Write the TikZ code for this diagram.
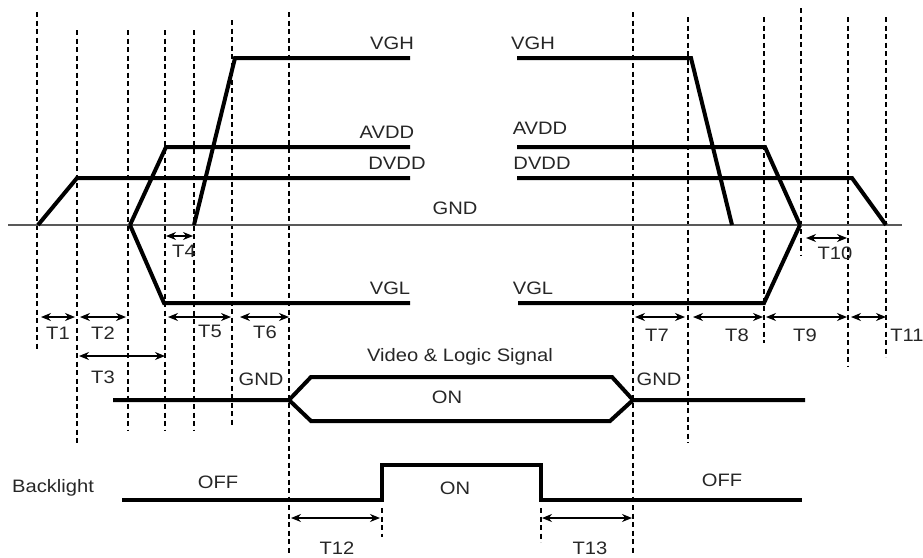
\documentclass[tikz,border=0pt]{standalone}
\usepackage{fontspec}
\setmainfont{Liberation Sans}[FakeStretch=1.12]
\usetikzlibrary{arrows.meta}
\begin{document}
\begin{tikzpicture}[x=1pt,y=-1pt,
  sig/.style={line width=4pt},
  guide/.style={line width=1.3pt, dash pattern=on 5pt off 3.5pt},
  gndline/.style={line width=1.5pt, black!65},
  dim/.style={line width=1.2pt, {Stealth[length=10pt,width=8pt]}-{Stealth[length=10pt,width=8pt]}},
  lbl/.style={font=\fontsize{18}{21}\selectfont, inner sep=0pt, text=black!85}]
\useasboundingbox (0,0) rectangle (923,557);
% guide lines
\foreach \x/\a/\b in {37/12/350, 77/30/443, 128/30/430, 165/30/430, 194/30/430, 232/20/427, 289/12/555, 633/12/555, 688/17/443, 764/17/343, 801/8/255, 848/17/367, 886/17/357, 382/508/537, 541/508/542}
  \draw[guide] (\x,\a) -- (\x,\b);
% ground
\draw[gndline] (8,225) -- (902,225);
% supply rails, power on
\draw[sig] (38,225) -- (77,178) -- (410,178);
\draw[sig] (130,225) -- (166,147) -- (410,147);
\draw[sig] (130,225) -- (164,303) -- (410,303);
\draw[sig] (194,225) -- (235,58) -- (410,58);
% supply rails, power off
\draw[sig] (517,58) -- (691,58) -- (732,225);
\draw[sig] (517,147) -- (765,147) -- (800,225);
\draw[sig] (517,178) -- (852,178) -- (886,225);
\draw[sig] (518,303) -- (764,303) -- (800,225);
% video bus
\draw[sig] (113,400) -- (289,400) -- (311,377) -- (612,377) -- (633,400) -- (805,400);
\draw[sig] (289,400) -- (311,421) -- (610,421) -- (633,400);
% backlight
\draw[line width=3.5pt] (122,500) -- (382,500) -- (382,465) -- (541,465) -- (541,500) -- (802,500);
% labels
\node[lbl] (vghL) at (392,43) {VGH};
\node[lbl] (vghR) at (533,43) {VGH};
\node[lbl] (avddL) at (387,132) {AVDD};
\node[lbl] (avddR) at (540,128) {AVDD};
\node[lbl] (dvddL) at (397,163) {DVDD};
\node[lbl] (dvddR) at (542,163) {DVDD};
\node[lbl] (gnd) at (455,208) {GND};
\node[lbl] (vglL) at (390,288) {VGL};
\node[lbl] (vglR) at (533,288) {VGL};
\node[lbl] (vls) at (460,357) {Video \& Logic Signal};
\node[lbl] (busOn) at (447,397) {ON};
\node[lbl] (gndA) at (261,379) {GND};
\node[lbl] (gndB) at (659,379) {GND};
\node[lbl] (bl) at (53,488) {Backlight};
\node[lbl] (offA) at (218,482) {OFF};
\node[lbl] (blOn) at (455,488) {ON};
\node[lbl] (offB) at (722,480) {OFF};
% timing arrows
\draw[dim] (41,317) -- (75,317);
\draw[dim] (80,317) -- (126,317);
\draw[dim] (79,356) -- (165,356);
\draw[dim] (166,236) -- (193,236);
\draw[dim] (168,317) -- (231,317);
\draw[dim] (240,317) -- (289,317);
\draw[dim] (635,317) -- (685,317);
\draw[dim] (693,317) -- (763,317);
\draw[dim] (766,317) -- (847,317);
\draw[dim] (806,238) -- (847,238);
\draw[dim] (851,317) -- (886,317);
\draw[dim] (291,518) -- (380,518);
\draw[dim] (542,518) -- (632,518);
\node[lbl] (t1) at (58,333) {T1};
\node[lbl] (t2) at (103,333) {T2};
\node[lbl] (t3) at (103,377) {T3};
\node[lbl] (t4) at (184,251) {T4};
\node[lbl] (t5) at (210,331) {T5};
\node[lbl] (t6) at (265,332) {T6};
\node[lbl] (t7) at (657,335) {T7};
\node[lbl] (t8) at (737,335) {T8};
\node[lbl] (t9) at (805,335) {T9};
\node[lbl] (t10) at (835,253) {T10};
\node[lbl] (t11) at (907,335) {T11};
\node[lbl] (t12) at (337,548) {T12};
\node[lbl] (t13) at (590,548) {T13};
\end{tikzpicture}
\end{document}
